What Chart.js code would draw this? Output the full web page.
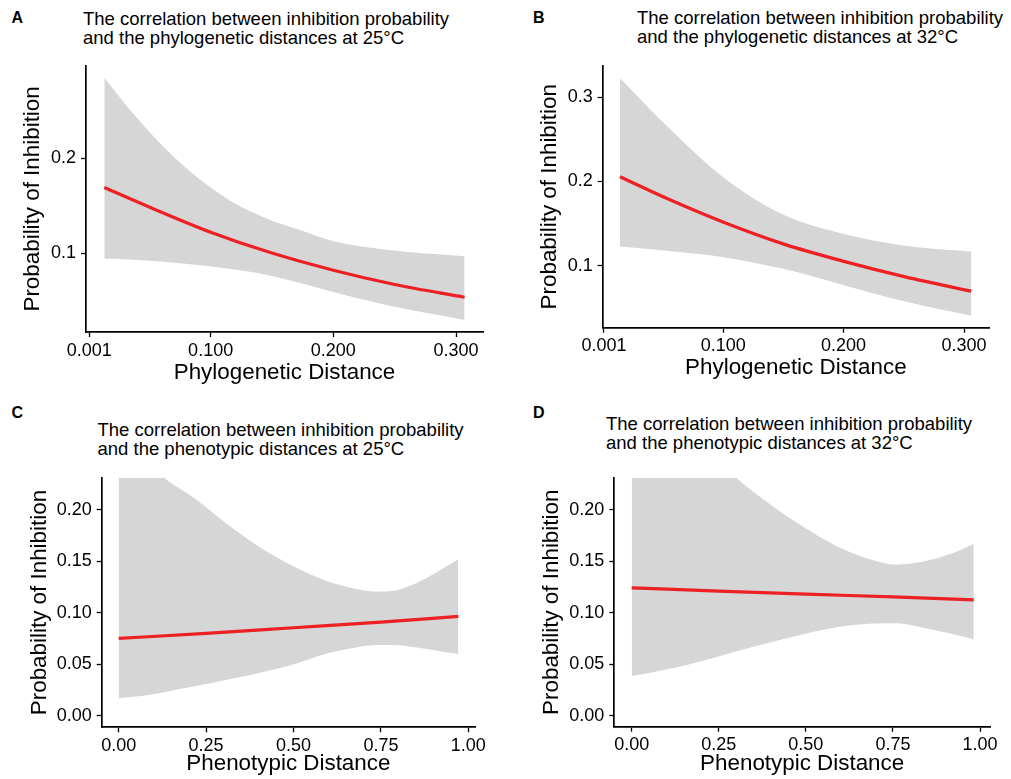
<!DOCTYPE html>
<html>
<head>
<meta charset="utf-8">
<script src="https://cdn.jsdelivr.net/npm/chart.js@4.4.1/dist/chart.umd.min.js"></script>
<style>
  body { margin: 0; background: #fff; width: 1011px; height: 779px; position: relative; overflow: hidden;
         font-family: "Liberation Sans", Arial, sans-serif; color: #000; }
  canvas { position: absolute; }
  .tag { position: absolute; font-weight: bold; font-size: 16px; line-height: 16px; }
  .ttl { position: absolute; font-size: 18.5px; line-height: 19px; white-space: nowrap; }
</style>
</head>
<body>
<div class="tag" style="left:11.5px;top:9.5px">A</div>
<div class="tag" style="left:533px;top:9.5px">B</div>
<div class="tag" style="left:11.5px;top:405px">C</div>
<div class="tag" style="left:533px;top:405px">D</div>
<div class="ttl" style="left:83px;top:9.1px">The correlation between inhibition probability<br>and the phylogenetic distances at 25°C</div>
<div class="ttl" style="left:637px;top:8.1px">The correlation between inhibition probability<br>and the phylogenetic distances at 32°C</div>
<div class="ttl" style="left:97.5px;top:419.8px">The correlation between inhibition probability<br>and the phenotypic distances at 25°C</div>
<div class="ttl" style="left:606px;top:414.1px">The correlation between inhibition probability<br>and the phenotypic distances at 32°C</div>
<canvas id="cA"></canvas>
<canvas id="cB"></canvas>
<canvas id="cC"></canvas>
<canvas id="cD"></canvas>
<script>
// --- data ---
const phyloTicks = [0.001, 0.1, 0.2, 0.3];
const phyloTickLabels = ['0.001', '0.100', '0.200', '0.300'];
const phenoTicks = [0, 0.25, 0.5, 0.75, 1];
const phenoTickLabels = ['0.00', '0.25', '0.50', '0.75', '1.00'];
const probTicksAB = [0.1, 0.2, 0.3];
const probTickLabelsAB = ['0.1', '0.2', '0.3'];
const probTicksCD = [0, 0.05, 0.1, 0.15, 0.2];
const probTickLabelsCD = ['0.00', '0.05', '0.10', '0.15', '0.20'];

// A: phylogenetic distance, 25°C
const fitDistA = [0.0133, 0.0527, 0.1, 0.15, 0.2, 0.25, 0.307];
const fitA = [0.169, 0.147, 0.122, 0.1, 0.082, 0.067, 0.0535];
const bandDistA = [0.0133, 0.037, 0.064, 0.091, 0.118, 0.146, 0.173, 0.2, 0.243, 0.307];
const upperA = [0.2845, 0.2465, 0.2086, 0.1776, 0.1535, 0.1362, 0.1242, 0.1124, 0.1035, 0.0966];
const lowerA = [0.0942, 0.093, 0.0905, 0.0872, 0.083, 0.077, 0.0685, 0.059, 0.0455, 0.0297];

// B: phylogenetic distance, 32°C
const distB = [0.0143, 0.053, 0.1014, 0.1498, 0.201, 0.252, 0.306];
const fitB = [0.2055, 0.18, 0.151, 0.126, 0.105, 0.0866, 0.07];
const upperB = [0.3225, 0.266, 0.2035, 0.1607, 0.1373, 0.1236, 0.117];
const lowerB = [0.1228, 0.1178, 0.11, 0.0964, 0.0768, 0.0573, 0.0409];

// C: phenotypic distance, 25°C
const bandDistC = [0, 0.07, 0.137, 0.2135, 0.309, 0.404, 0.4995, 0.595, 0.69, 0.738, 0.7855, 0.852, 0.9714];
const upperC = [0.27, 0.25, 0.229, 0.2118, 0.1864, 0.1635, 0.1451, 0.1308, 0.1223, 0.1205, 0.1213, 0.129, 0.152];
const lowerC = [0.0171, 0.0195, 0.0235, 0.0285, 0.035, 0.042, 0.0499, 0.0605, 0.0672, 0.0688, 0.0688, 0.0664, 0.06];
const fitDistC = [0, 0.25, 0.5, 0.75, 0.9714];
const fitC = [0.0752, 0.08, 0.0855, 0.091, 0.0965];

// D: phenotypic distance, 32°C
const bandDistD = [0, 0.15, 0.3015, 0.397, 0.4927, 0.5886, 0.684, 0.761, 0.847, 0.9426, 0.982];
const upperD = [0.33, 0.28, 0.2306, 0.2054, 0.1834, 0.1645, 0.1518, 0.1465, 0.1503, 0.1607, 0.1669];
const lowerD = [0.0384, 0.0485, 0.0625, 0.071, 0.079, 0.0858, 0.0893, 0.0897, 0.0846, 0.0775, 0.074];
const fitDistD = [0, 0.25, 0.5, 0.75, 0.982];
const fitD = [0.1241, 0.121, 0.118, 0.1153, 0.1125];

const RED = 'rgb(237,32,36)';
const GREY = 'rgb(214,214,214)';
Chart.defaults.font.family = '"Liberation Sans", Arial, sans-serif';
Chart.defaults.color = '#000';

const pts = (xs, ys) => xs.map((x, i) => ({x: x, y: ys[i]}));

function panel(id, box, area, p) {
  const cv = document.getElementById(id);
  cv.width = box.w;
  cv.height = box.h;
  cv.style.left = box.x + 'px';
  cv.style.top = box.y + 'px';

  const axisCommon = {
    type: 'linear',
    grid: {drawOnChartArea: false, drawTicks: true, tickLength: 5, tickColor: '#000', tickWidth: 1.3, color: '#000'},
    border: {display: true, color: '#000', width: 1.7},
  };
  const inRange = (vals, lo, hi) => vals.filter(v => v >= lo && v <= hi).map(v => ({value: v}));

  new Chart(cv, {
    type: 'line',
    data: {
      datasets: [
        {data: pts(p.fitX, p.fit), borderColor: RED, borderWidth: 3.2, pointRadius: 0, fill: false,
         cubicInterpolationMode: 'monotone'},
        {data: pts(p.bandX, p.upper), borderColor: 'rgba(0,0,0,0)', borderWidth: 0, pointRadius: 0,
         fill: '+1', backgroundColor: GREY, cubicInterpolationMode: 'monotone'},
        {data: pts(p.bandX, p.lower), borderColor: 'rgba(0,0,0,0)', borderWidth: 0, pointRadius: 0,
         fill: false, cubicInterpolationMode: 'monotone'}
      ]
    },
    options: {
      responsive: false,
      animation: false,
      events: [],
      layout: {padding: {left: 0, top: area.t - box.y, right: box.x + box.w - area.r, bottom: 0}},
      plugins: {legend: {display: false}, tooltip: {enabled: false}},
      scales: {
        x: Object.assign({}, axisCommon, {
          min: p.xMin, max: p.xMax,
          afterBuildTicks: s => { s.ticks = inRange(p.xTicks, p.xMin, p.xMax); },
          afterFit: s => { s.height = box.y + box.h - area.b; },
          ticks: {autoSkip: false, maxRotation: 0, padding: 3, font: {size: 18},
                  callback: v => p.xLabels[p.xTicks.indexOf(v)]},
          title: {display: true, text: p.xTitle, font: {size: 22.4}, padding: {top: 0, bottom: p.xTitlePad}}
        }),
        y: Object.assign({}, axisCommon, {
          min: p.yMin, max: p.yMax,
          afterBuildTicks: s => { s.ticks = inRange(p.yTicks, p.yMin, p.yMax); },
          afterFit: s => { s.width = area.l - box.x; },
          ticks: {autoSkip: false, padding: 5, font: {size: 18},
                  callback: v => p.yLabels[p.yTicks.indexOf(v)]},
          title: {display: true, text: 'Probability of Inhibition', font: {size: 22.4},
                  padding: {top: p.yTitlePad, bottom: 0}}
        })
      }
    }
  });
}

panel('cA', {x: 0, y: 50, w: 500, h: 340}, {l: 86, r: 483, t: 61, b: 332}, {
  fitX: fitDistA, fit: fitA, bandX: bandDistA, upper: upperA, lower: lowerA,
  xMin: -0.0016, xMax: 0.322, yMin: 0.017, yMax: 0.297,
  xTicks: phyloTicks, xLabels: phyloTickLabels, yTicks: probTicksAB, yLabels: probTickLabelsAB,
  xTitle: 'Phylogenetic Distance', xTitlePad: 3.6, yTitlePad: 19.6
});

panel('cB', {x: 505, y: 50, w: 506, h: 340}, {l: 602.7, r: 989, t: 62.3, b: 327.7}, {
  fitX: distB, fit: fitB, bandX: distB, upper: upperB, lower: lowerB,
  xMin: 0, xMax: 0.3207, yMin: 0.0267, yMax: 0.337,
  xTicks: phyloTicks, xLabels: phyloTickLabels, yTicks: probTicksAB, yLabels: probTickLabelsAB,
  xTitle: 'Phylogenetic Distance', xTitlePad: 9.1, yTitlePad: 31.6
});

panel('cC', {x: 0, y: 462, w: 500, h: 317}, {l: 101.7, r: 475, t: 473.3, b: 727.3}, {
  fitX: fitDistC, fit: fitC, bandX: bandDistC, upper: upperC, lower: lowerC,
  xMin: -0.0486, xMax: 1.019, yMin: -0.011, yMax: 0.2309,
  xTicks: phenoTicks, xLabels: phenoTickLabels, yTicks: probTicksCD, yLabels: probTickLabelsCD,
  xTitle: 'Phenotypic Distance', xTitlePad: 1.6, yTitlePad: 26.6
});

panel('cD', {x: 505, y: 462, w: 506, h: 317}, {l: 614.3, r: 990, t: 471, b: 726.7}, {
  fitX: fitDistD, fit: fitD, bandX: bandDistD, upper: upperD, lower: lowerD,
  xMin: -0.05, xMax: 1.0287, yMin: -0.0108, yMax: 0.231,
  xTicks: phenoTicks, xLabels: phenoTickLabels, yTicks: probTicksCD, yLabels: probTickLabelsCD,
  xTitle: 'Phenotypic Distance', xTitlePad: 1.6, yTitlePad: 33.8
});
</script>
</body>
</html>
